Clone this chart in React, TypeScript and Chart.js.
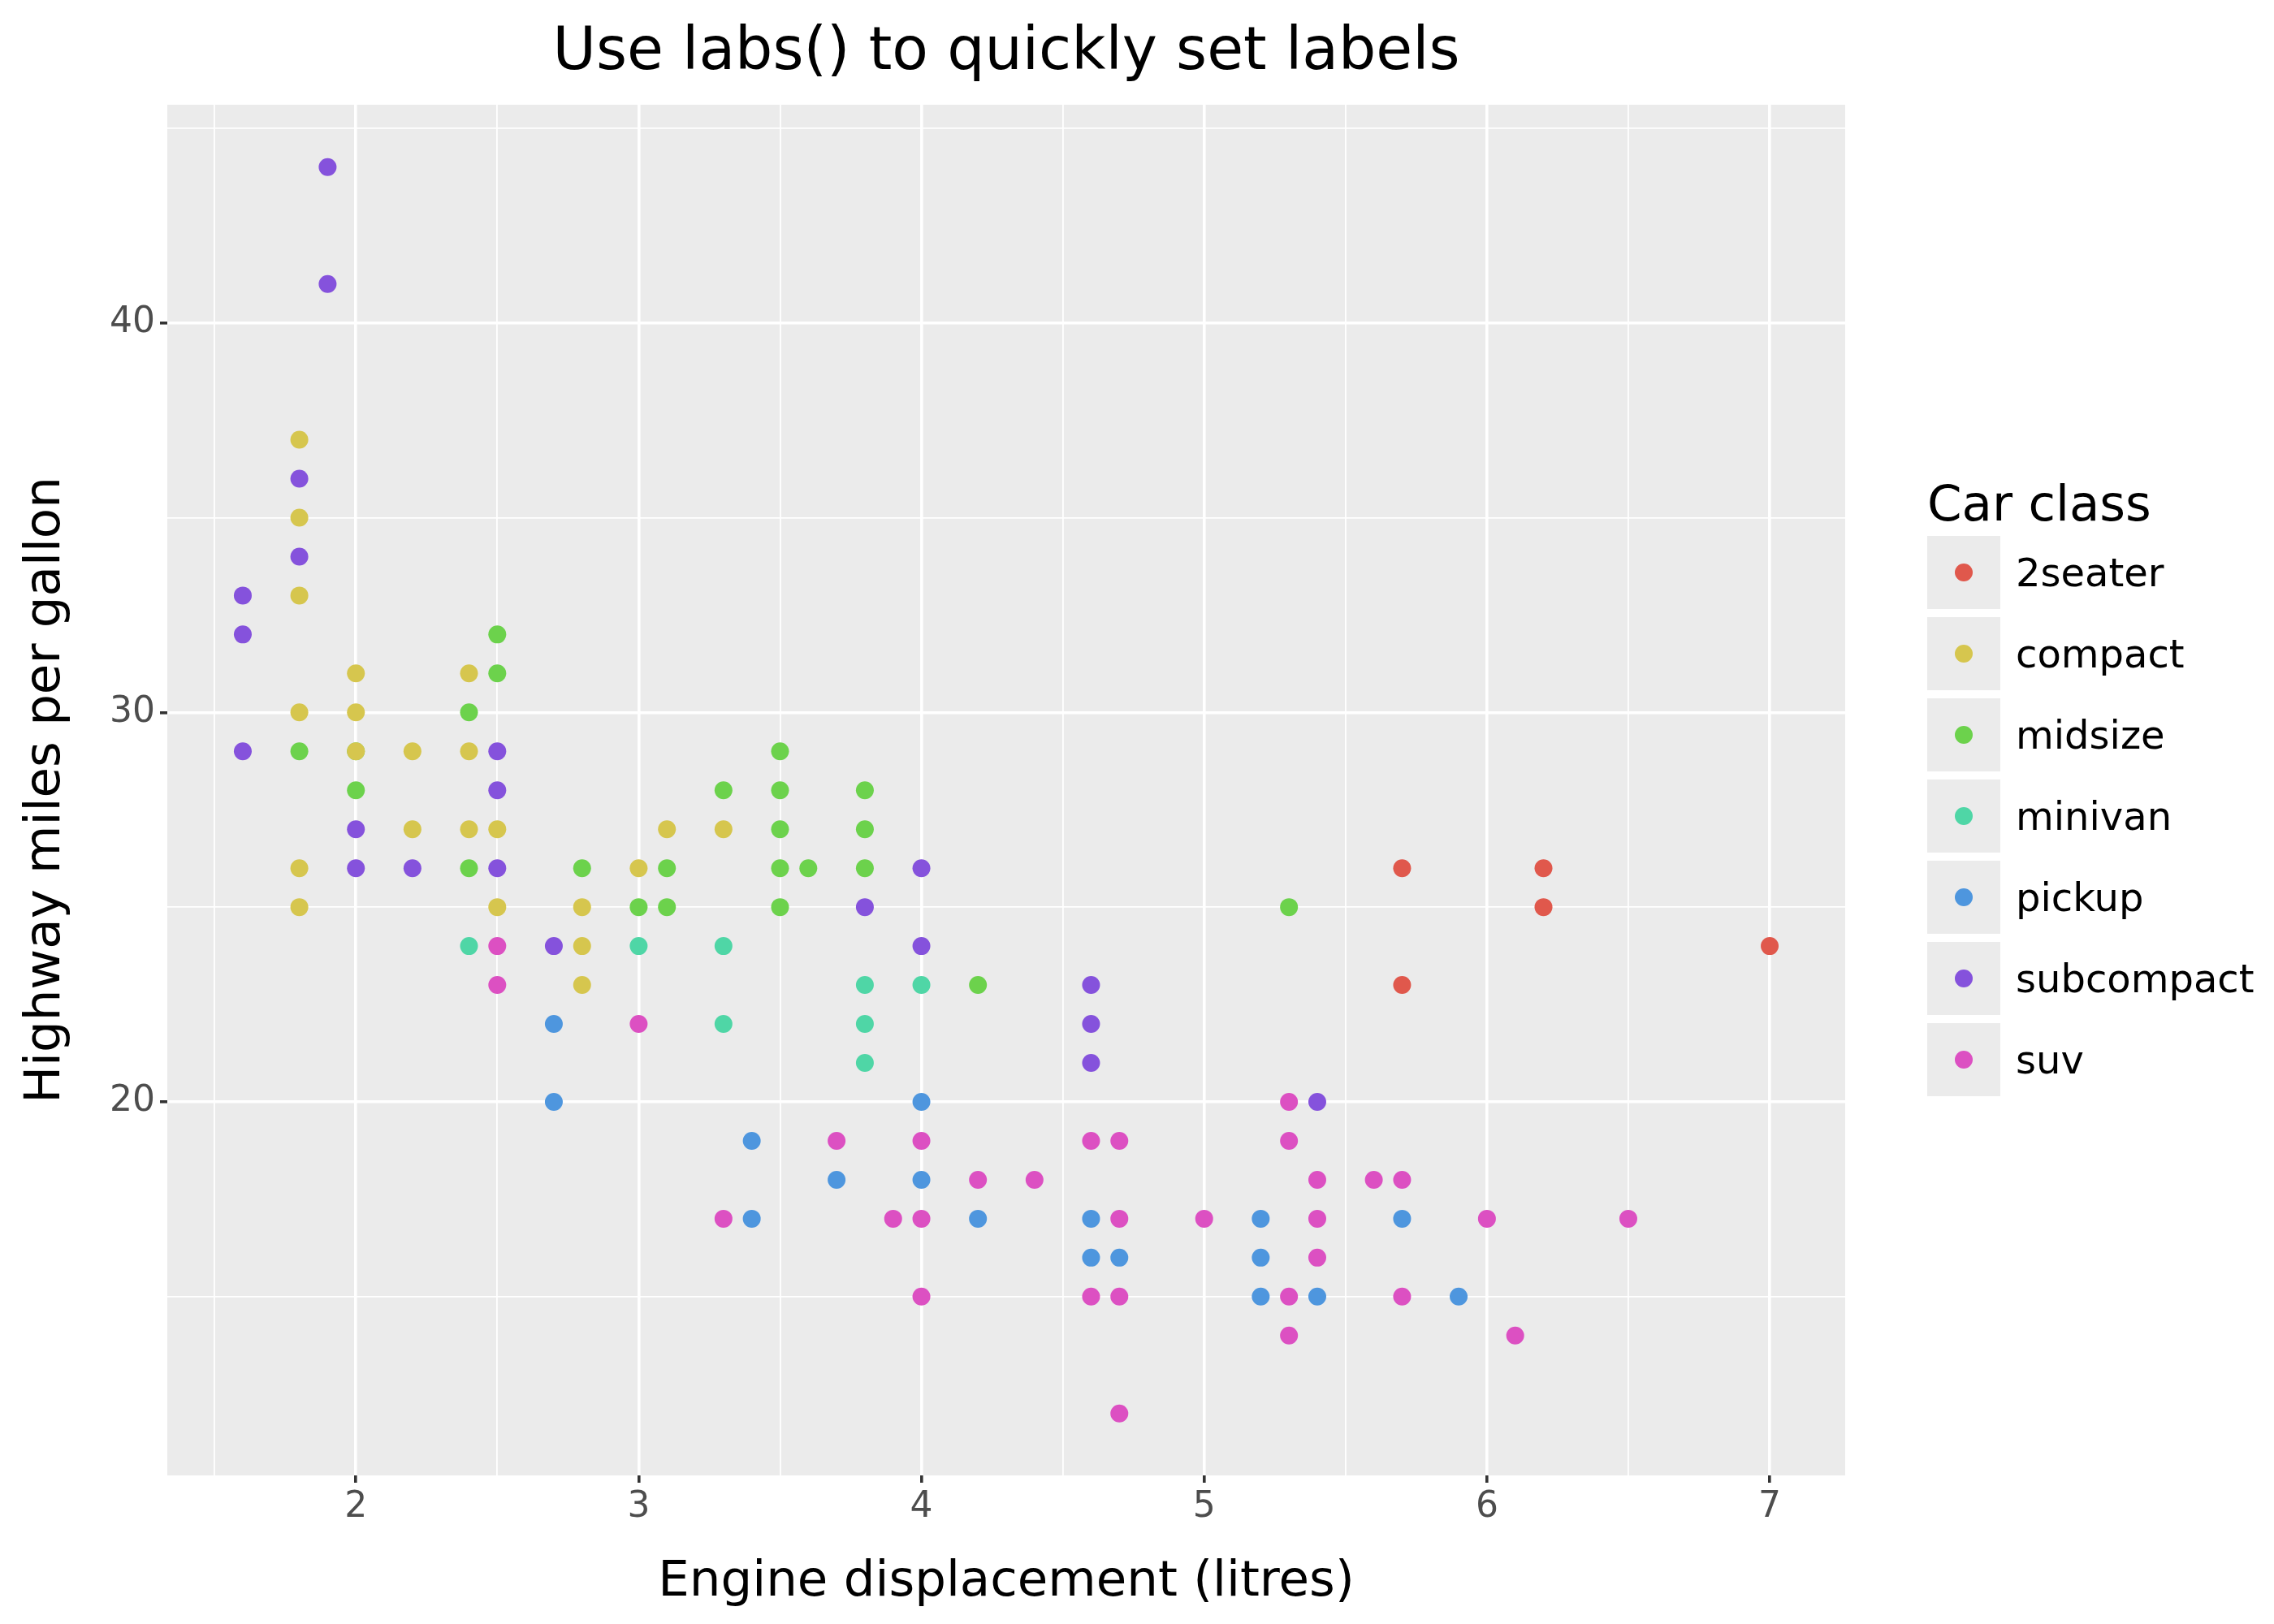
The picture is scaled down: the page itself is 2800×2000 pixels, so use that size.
import React, { useEffect, useRef } from 'react';
import { Chart, registerables } from 'chart.js';

Chart.register(...registerables);

const classes = ['2seater', 'compact', 'midsize', 'minivan', 'pickup', 'subcompact', 'suv'];
const colors = ['#E0584C', '#D6C64E', '#6CD24C', '#4FD6A6', '#4E96DE', '#8552DC', '#DC50C2'];

const twoseater = [[5.7, 26], [5.7, 23], [6.2, 26], [6.2, 25], [7, 24]];
const compact = [[1.8, 37], [1.8, 35], [1.8, 33], [1.8, 30], [1.8, 26], [1.8, 25], [2, 31], [2, 30], [2, 29], [2.2, 29], [2.2, 27], [2.4, 31], [2.4, 29], [2.4, 27], [2.5, 27], [2.5, 25], [2.8, 25], [2.8, 24], [2.8, 23], [3, 26], [3.1, 27], [3.3, 27]];
const midsize = [[1.8, 29], [2, 29], [2, 28], [2.4, 30], [2.4, 26], [2.5, 32], [2.5, 31], [2.8, 26], [3, 25], [3.1, 26], [3.1, 25], [3.3, 28], [3.5, 29], [3.5, 28], [3.5, 27], [3.5, 26], [3.5, 25], [3.6, 26], [3.8, 28], [3.8, 27], [3.8, 26], [4.2, 23], [5.3, 25]];
const minivan = [[2.4, 24], [3, 24], [3.3, 24], [3.3, 22], [3.8, 23], [3.8, 22], [3.8, 21], [4, 23]];
const pickup = [[2.7, 22], [2.7, 20], [3.4, 19], [3.4, 17], [3.7, 18], [4, 20], [4, 18], [4.2, 17], [4.6, 17], [4.6, 16], [4.7, 16], [5.2, 17], [5.2, 16], [5.2, 15], [5.4, 15], [5.7, 17], [5.9, 15]];
const subcompact = [[1.6, 33], [1.6, 32], [1.6, 29], [1.8, 36], [1.8, 34], [1.9, 44], [1.9, 41], [2, 27], [2, 26], [2.2, 26], [2.5, 29], [2.5, 28], [2.5, 26], [2.7, 24], [3.8, 25], [4, 26], [4, 24], [4.6, 23], [4.6, 22], [4.6, 21], [5.4, 20]];
const suv = [[2.5, 24], [2.5, 23], [3, 22], [3.3, 17], [3.7, 19], [3.9, 17], [4, 19], [4, 17], [4, 15], [4.2, 18], [4.4, 18], [4.6, 19], [4.6, 15], [4.7, 19], [4.7, 17], [4.7, 15], [4.7, 12], [5, 17], [5.3, 20], [5.3, 19], [5.3, 15], [5.3, 14], [5.4, 18], [5.4, 17], [5.4, 16], [5.6, 18], [5.7, 18], [5.7, 15], [6, 17], [6.1, 14], [6.5, 17]];
const series = [twoseater, compact, midsize, minivan, pickup, subcompact, suv];

const xTickLabels = [2, 3, 4, 5, 6, 7];
const yTickLabels = [20, 30, 40];

const font = '"DejaVu Sans", sans-serif';

const panelBg = {
  id: 'panelBg',
  beforeDraw(chart: Chart) {
    const { ctx, chartArea: a } = chart;
    ctx.save();
    ctx.fillStyle = '#EBEBEB';
    ctx.fillRect(a.left, a.top, a.right - a.left, a.bottom - a.top);
    ctx.restore();
  },
};

export default function App() {
  const canvasRef = useRef<HTMLCanvasElement | null>(null);

  useEffect(() => {
    const canvas = canvasRef.current;
    if (!canvas) return;
    const isMajor = (v: number, list: number[]) => list.includes(v);
    const chart = new Chart(canvas, {
      type: 'scatter',
      data: {
        datasets: series.map((pts, i) => ({
          label: classes[i],
          data: pts.map(([x, y]) => ({ x, y })),
          backgroundColor: colors[i],
          borderWidth: 0,
          pointRadius: 11,
        })),
      },
      options: {
        animation: false,
        responsive: false,
        devicePixelRatio: 1,
        layout: { padding: { top: 129, right: 528, left: 0, bottom: 0 } },
        plugins: { legend: { display: false }, tooltip: { enabled: false } },
        scales: {
          x: {
            type: 'linear',
            min: 1.333,
            max: 7.267,
            afterBuildTicks: (s: any) => {
              s.ticks = [1.5, 2, 2.5, 3, 3.5, 4, 4.5, 5, 5.5, 6, 6.5, 7].map((v) => ({ value: v }));
            },
            afterFit: (s: any) => { s.height = 183; },
            border: { display: false },
            grid: {
              color: '#FFFFFF',
              lineWidth: (c: any) => (isMajor(c.tick?.value, xTickLabels) ? 3.6 : 1.8),
              tickColor: (c: any) => (isMajor(c.tick?.value, xTickLabels) ? '#333333' : 'rgba(0,0,0,0)'),
              tickLength: 9,
              tickWidth: 3.6,
            },
            ticks: {
              autoSkip: false,
              maxRotation: 0,
              padding: 4,
              color: '#4D4D4D',
              font: { family: font, size: 44 },
              callback: (v: any) => (isMajor(Number(v), xTickLabels) ? String(v) : ''),
            },
          },
          y: {
            type: 'linear',
            min: 10.41,
            max: 45.6,
            afterBuildTicks: (s: any) => {
              s.ticks = [15, 20, 25, 30, 35, 40, 45].map((v) => ({ value: v }));
            },
            afterFit: (s: any) => { s.width = 206; },
            border: { display: false },
            grid: {
              color: '#FFFFFF',
              lineWidth: (c: any) => (isMajor(c.tick?.value, yTickLabels) ? 3.6 : 1.8),
              tickColor: (c: any) => (isMajor(c.tick?.value, yTickLabels) ? '#333333' : 'rgba(0,0,0,0)'),
              tickLength: 9,
              tickWidth: 3.6,
            },
            ticks: {
              autoSkip: false,
              padding: 6,
              color: '#4D4D4D',
              font: { family: font, size: 44 },
              callback: (v: any) => (isMajor(Number(v), yTickLabels) ? String(v) : ''),
            },
          },
        },
      },
      plugins: [panelBg],
    });
    return () => chart.destroy();
  }, []);

  const abs = (s: React.CSSProperties): React.CSSProperties => ({ position: 'absolute', fontFamily: font, color: '#000', ...s });

  return (
    <div style={{ position: 'relative', width: 2800, height: 2000, background: '#fff', margin: -8 }}>
      <canvas ref={canvasRef} width={2800} height={2000} style={{ position: 'absolute', left: 0, top: 0 }} />
      <div style={abs({ left: 206, width: 2066, top: 16, textAlign: 'center', fontSize: 73, lineHeight: '88px' })}>
        Use labs() to quickly set labels
      </div>
      <div style={abs({ left: 206, width: 2066, top: 1908, textAlign: 'center', fontSize: 61, lineHeight: '72px' })}>
        Engine displacement (litres)
      </div>
      <div style={abs({ left: 52, top: 973, width: 1000, marginLeft: -500, marginTop: -36, textAlign: 'center', fontSize: 61, lineHeight: '72px', transform: 'rotate(-90deg)' })}>
        Highway miles per gallon
      </div>
      <div style={abs({ left: 2373, top: 584, fontSize: 61, lineHeight: '72px' })}>Car class</div>
      {classes.map((c, i) => (
        <div key={c}>
          <div style={abs({ left: 2373, top: 660 + i * 100, width: 90, height: 90, background: '#EBEBEB' })}>
            <div style={{ position: 'absolute', left: 34, top: 34, width: 22, height: 22, borderRadius: 11, background: colors[i] }} />
          </div>
          <div style={abs({ left: 2482, top: 675 + i * 100, fontSize: 48, lineHeight: '60px' })}>{c}</div>
        </div>
      ))}
    </div>
  );
}
